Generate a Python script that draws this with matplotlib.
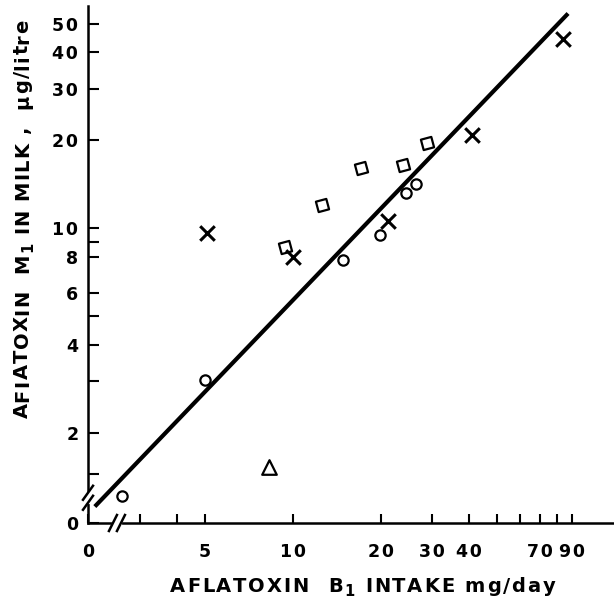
import matplotlib
matplotlib.use("Agg")
import matplotlib.pyplot as plt
from matplotlib.markers import MarkerStyle
from matplotlib.transforms import Affine2D, IdentityTransform
from matplotlib.lines import Line2D
from matplotlib.font_manager import FontProperties, findfont
from matplotlib.ft2font import FT2Font

# ---- data ----
circles_x = [2.6, 5.0, 14.8, 19.9, 24.4, 26.4]
circles_y = [1.22, 3.03, 7.8, 9.5, 13.2, 14.2]
squares_x = [9.4, 12.6, 17.1, 23.8, 28.8]
squares_y = [8.6, 12.0, 16.1, 16.4, 19.5]
crosses_x = [5.07, 10.0, 21.1, 41.0, 84.0]
crosses_y = [9.6, 8.0, 10.6, 20.9, 44.2]
tri_x = [8.3]
tri_y = [1.53]
fit_x = [2.1, 87.5]
fit_y = [1.12, 54.2]

x_zero = 1.99      # value at the "0" corner of the broken x axis
y_zero = 0.984     # value at the "0" corner of the broken y axis
x_ticks = [x_zero, 3, 4, 5, 10, 20, 30, 40, 50, 60, 70, 80, 90]
x_labels = ["0", "", "", "5", "10", "20", "30", "40", "", "", "70", "", "90"]
y_ticks = [y_zero, 1.45, 2, 3, 4, 5, 6, 8, 9, 10, 20, 30, 40, 50]
y_labels = ["0", "", "2", "", "4", "", "6", "8", "", "10", "20", "30", "40", "50"]
x_break = 2.5
y_break = 1.2
x_title = [("AFLATOXIN  B", 1.0), ("1", 0.75), (" INTAKE mg/day", 1.0)]
y_title = [("AFIATOXIN  M", 1.0), ("1", 0.75), (" IN MILK ,  μg/litre", 1.0)]

HAIR = "\u200a"
W, H = 614, 602
fig = plt.figure(figsize=(W / 100, H / 100), dpi=100)
ax = fig.add_axes([88 / W, 79 / H, (613 - 88) / W, (523 - 6) / H])
ax.set_xscale("log")
ax.set_yscale("log")
ax.set_xlim(x_zero, 124.7)
ax.set_ylim(y_zero, 57.5)

for s in ["top", "right"]:
    ax.spines[s].set_visible(False)
for s in ["left", "bottom"]:
    ax.spines[s].set_linewidth(1.8)

ax.plot(fit_x, fit_y, color="black", lw=3.0, solid_capstyle="butt", zorder=2)

ax.scatter(circles_x, circles_y, s=55, facecolors="white", edgecolors="black",
           linewidths=1.6, marker="o", zorder=3)
sq = MarkerStyle("s", transform=Affine2D().rotate_deg(15))
ax.scatter(squares_x, squares_y, s=60, facecolors="white", edgecolors="black",
           linewidths=1.6, marker=sq, zorder=3)
ax.scatter(crosses_x, crosses_y, s=110, color="black", linewidths=2.2,
           marker="x", zorder=4)
ax.scatter(tri_x, tri_y, s=110, facecolors="white", edgecolors="black",
           linewidths=1.6, marker="^", zorder=3)

ax.xaxis.set_minor_locator(matplotlib.ticker.NullLocator())
ax.yaxis.set_minor_locator(matplotlib.ticker.NullLocator())
ax.set_xticks(x_ticks)
ax.set_xticklabels([HAIR.join(l) for l in x_labels])
ax.set_yticks(y_ticks)
ax.set_yticklabels([HAIR.join(l) for l in y_labels])
ax.tick_params(axis="x", direction="in", length=6.5, width=1.5, pad=14.5,
               labelsize=12.5)
ax.tick_params(axis="y", direction="in", length=8, width=1.5, pad=7,
               labelsize=12.5)
for lab in ax.get_xticklabels() + ax.get_yticklabels():
    lab.set_fontweight("bold")

# ---- letter-spaced titles ----
prop = FontProperties(family="DejaVu Sans", weight="bold")
ftfont = FT2Font(findfont(prop))


def advance(ch, size_pt):
    ftfont.set_size(size_pt, 100)
    g = ftfont.load_char(ord(ch))
    return g.linearHoriAdvance / 65536.0


def spread(parts, size):
    chars = []
    for txt, sc in parts:
        for c in txt:
            chars.append((c, sc))
    advs = [advance(c, size * sc) for c, sc in chars]
    return chars, advs


def tracked_h(parts, left, right, base, size):
    chars, advs = spread(parts, size)
    extra = ((right - left) - sum(advs)) / (len(chars) - 1)
    pos = left
    for (c, sc), a in zip(chars, advs):
        off = 4 if sc < 1.0 else 0
        fig.text(pos, H - base - off, c, transform=IdentityTransform(),
                 fontsize=size * sc, fontweight="bold", ha="left",
                 va="baseline", family="DejaVu Sans")
        pos += a + extra


def tracked_v(parts, bottom, top, base, size):
    chars, advs = spread(parts, size)
    extra = ((bottom - top) - sum(advs)) / (len(chars) - 1)
    pos = bottom
    for (c, sc), a in zip(chars, advs):
        off = 4 if sc < 1.0 else 0
        fig.text(base + off, H - pos, c, transform=IdentityTransform(),
                 fontsize=size * sc, fontweight="bold", ha="left",
                 va="baseline", rotation=90, rotation_mode="anchor",
                 family="DejaVu Sans")
        pos -= a + extra


tracked_h(x_title, 170, 555, 592, 14)
tracked_v(y_title, 418, 20, 28, 14)

# axis break marks
fig.canvas.draw()
px, py = ax.transData.transform((x_zero, y_break))
fig.add_artist(Line2D([px, px], [py - 4, py + 4], transform=IdentityTransform(),
                      color="white", lw=3))
for dy in (-5, 5):
    fig.add_artist(Line2D([px - 5, px + 5], [py + dy - 7, py + dy + 7],
                          transform=IdentityTransform(), color="black", lw=1.8))
qx, qy = ax.transData.transform((x_break, y_zero))
fig.add_artist(Line2D([qx - 3, qx + 3], [qy, qy], transform=IdentityTransform(),
                      color="white", lw=3))
for dx in (-4, 4):
    fig.add_artist(Line2D([qx + dx - 4, qx + dx + 4], [qy - 8, qy + 8],
                          transform=IdentityTransform(), color="black", lw=1.8))

fig.savefig("out.png", dpi=100, facecolor="white")
